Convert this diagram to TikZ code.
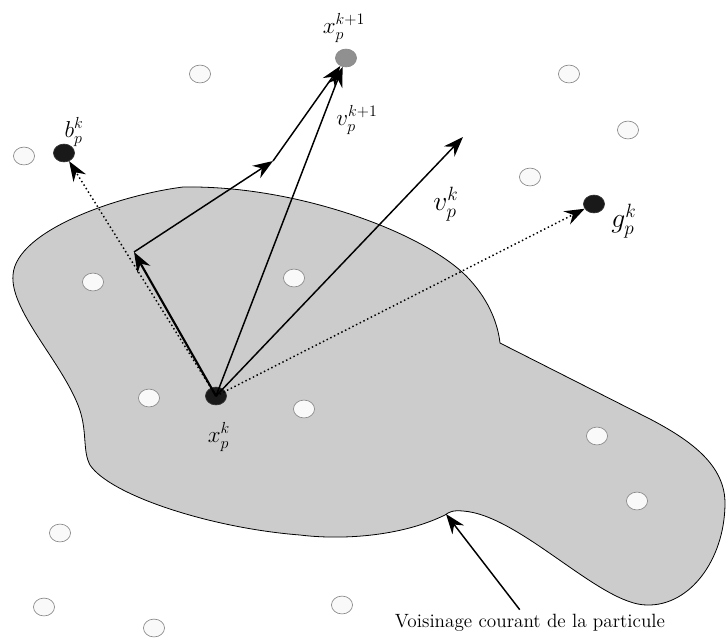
\documentclass[tikz,border=0pt]{standalone}
\usepackage{tikz}
\usetikzlibrary{positioning,shapes.geometric,arrows.meta}
\definecolor{blob}{HTML}{CCCCCC}
\definecolor{ring}{HTML}{8A8A8A}
\definecolor{pale}{HTML}{F9F9F9}
\definecolor{nextpos}{HTML}{909090}

\begin{document}
\begin{tikzpicture}[x=0.75pt, y=-0.75pt,
  part/.style={ellipse, draw=ring, line width=0.5pt, fill=pale,
               minimum width=15.8pt, minimum height=13.4pt, inner sep=0pt},
  best/.style={part, draw=black!80, fill=black!90},
  lbl/.style={font=\LARGE, inner sep=0pt},
  vec/.style={line width=1.1pt, -{Stealth[length=15pt,width=11pt,inset=5pt]}},
  pull/.style={vec, dotted}
]

\useasboundingbox (0,0) rectangle (726,637);

% neighbourhood
\filldraw[fill=blob, draw=black, line width=0.6pt]
  (500,343) -- (650,419)
  .. controls (690,440) and (726,465) .. (725,505)
  .. controls (724,560) and (690,606) .. (647,605)
  .. controls (600,605) and (520,515) .. (463,511)
  .. controls (453,510) and (449,512) .. (445,515)
  .. controls (400,537) and (340,540) .. (300,535)
  .. controls (210,528) and (110,495) .. (90,465)
  .. controls (82,450) and (88,430) .. (78,405)
  .. controls (60,360) and (10,310) .. (13,275)
  .. controls (16,230) and (120,195) .. (183,187)
  .. controls (300,185) and (430,235) .. (470,280)
  .. controls (490,302) and (498,325) .. (500,343) -- cycle;

\foreach \px/\py [count=\i] in {200/74, 24/156, 569/74, 628/130, 530/177,
    93/282, 294/278, 149/398, 304/409, 597/436, 637/501, 60/533, 44/607,
    154/628, 342/605}
  \node[part] (n\i) at (\px,\py) {};

\node[best] (xk) at (216,396) {};
\node[best] (bk) at (64,153) {};
\node[best] (gk) at (594,204) {};
\node[part, fill=nextpos] (xk1) at (346,58) {};

\coordinate (inertia) at (134,252);
\coordinate (bend) at (273,161);
\coordinate (vtip) at (463,137);
\coordinate (edge) at (446,514);

\draw[vec, line width=1.6pt] (xk.center) -- (inertia);
\draw[vec] (inertia) -- (bend);
\draw[vec] (bend) -- (xk1);
\draw[vec] (xk.center) -- (xk1);
\draw[vec] (xk.center) -- (vtip);
\draw[pull] (xk.center) -- (bk);
\draw[pull] (xk.center) -- (gk);

\node[lbl] (xk1lbl) at (344,28) {$x_p^{k+1}$};
\node[lbl] (vk1lbl) at (357,120) {$v_p^{k+1}$};
\node[lbl] (bklbl) at (74,132) {$b_p^k$};
\node[lbl, font=\huge] (vklbl) at (446,204) {$v_p^k$};
\node[lbl, font=\huge] (gklbl) at (624,221) {$g_p^k$};
\node[lbl] (xklbl) at (219,437) {$x_p^k$};

\node[font=\Large] (voisin) at (530,623) {Voisinage courant de la particule};
\draw[vec] (voisin) -- (edge);

\end{tikzpicture}
\end{document}
